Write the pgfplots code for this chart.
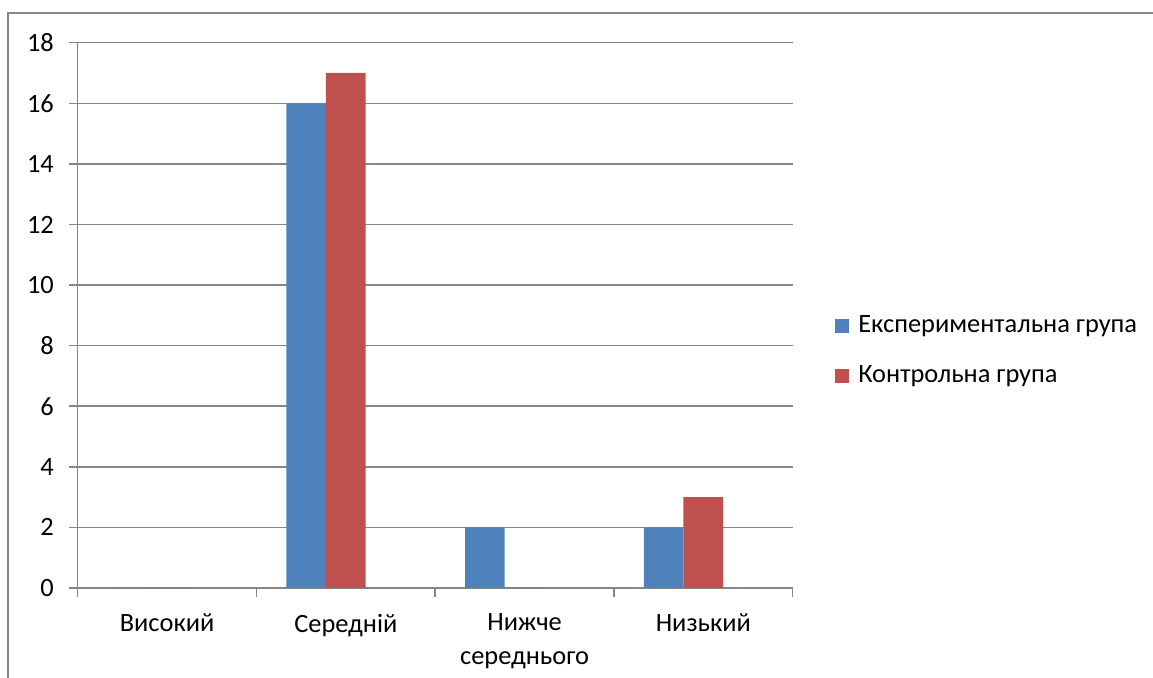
\documentclass[border=0pt]{standalone}
\usepackage{fontspec}
\setmainfont{Carlito}
\usepackage{pgfplots}
\pgfplotsset{compat=1.18}
\definecolor{expblue}{RGB}{79,129,189}
\definecolor{ctrlred}{RGB}{192,80,77}
\definecolor{gridgray}{RGB}{134,134,134}
\newcommand{\chartfont}{\fontsize{13.2}{16.6}\selectfont}

\begin{document}
\begin{tikzpicture}
  % 1px of the reference = 0.5pt
  \useasboundingbox (0,0) rectangle (576.5pt,339pt);
  \draw[gridgray, line width=0.75pt] (4pt,0pt) -- (4pt,332.5pt) -- (576.5pt,332.5pt);
  \begin{axis}[
      at={(38.85pt,45pt)}, anchor=south west,
      scale only axis,
      width=357.5pt, height=272.65pt,
      xmin=-0.5, xmax=3.5,
      ymin=0, ymax=18,
      ytick={0,2,...,18},
      xtick={-0.5,0.5,1.5,2.5,3.5},
      xticklabels={},
      extra x ticks={0,1,2,3},
      extra x tick labels={Високий,Середній,{Нижче\\середнього},Низький},
      extra x tick style={major tick length=0pt},
      axis x line*=bottom, axis y line*=left,
      every outer x axis line/.append style={-},
      every outer y axis line/.append style={-},
      axis line style={-, draw=gridgray, line width=0.75pt},
      tick align=outside,
      major tick length=4.4pt,
      tick style={draw=gridgray, line width=0.75pt},
      ymajorgrids,
      grid style={gridgray, line width=0.75pt},
      /pgf/number format/assume math mode=true,
      ticklabel style={font=\chartfont},
      xticklabel style={align=center, yshift=-9.5pt},
      yticklabel style={xshift=-4pt},
      ybar, bar width=0.222,
      legend image code/.code={\fill[#1] (0pt,-3.5pt) rectangle (7pt,3.5pt);},
      legend cell align=left,
      legend style={draw=none, fill=none, at={(1.059,0.435)}, anchor=west,
        font=\chartfont, inner sep=0pt, row sep=11pt,
        /tikz/every odd column/.style={column sep=2.5pt}},
    ]
    \addplot[fill=expblue, draw=none, bar shift=-0.222]
      coordinates {(0,0) (1,16) (2,2) (3,2)};
    \addplot[fill=ctrlred, draw=none, bar shift=0]
      coordinates {(0,0) (1,17) (2,0) (3,3)};
    \legend{Експериментальна група, Контрольна група}
  \end{axis}
\end{tikzpicture}
\end{document}
